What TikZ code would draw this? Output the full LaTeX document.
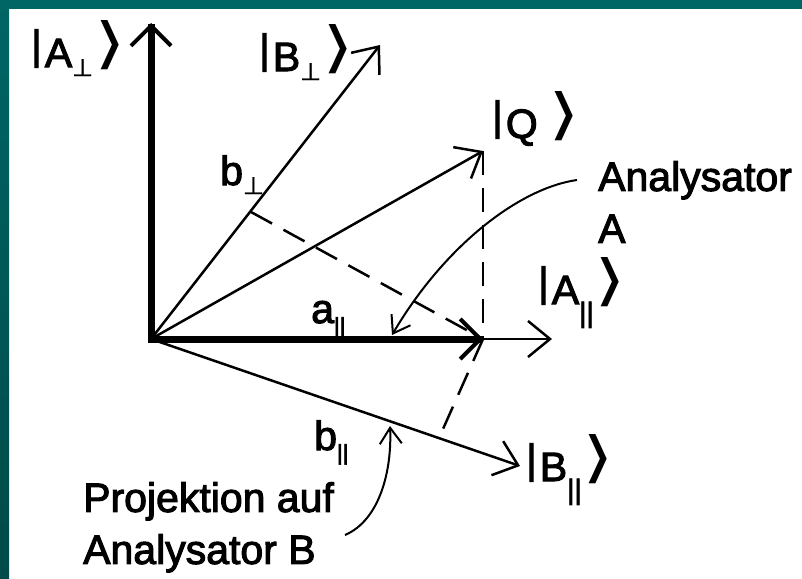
\documentclass[tikz,border=0pt]{standalone}
\usepackage{graphicx}
\usepackage{fontspec}
\setmainfont[FakeBold=2.5]{Liberation Sans}
\newfontfamily\symfont[FakeBold=1.5]{DejaVu Sans}
\newfontfamily\bracketfont{DejaVu Sans}
\usetikzlibrary{arrows.meta}

\definecolor{frameteal}{HTML}{006565}
\definecolor{frametealdark}{HTML}{004A4A}

\newcommand{\perpsub}{\raisebox{-9pt}{\symfont\fontsize{24}{24}\selectfont ⊥}}
\newcommand{\parsub}[2]{\raisebox{#2}{\fontsize{#1}{#1}\selectfont ||}}
\newcommand{\ketclose}{\kern1pt\raisebox{5pt}{\scalebox{2.0}[1.35]{\bracketfont ⟩}}}
\newcommand{\ketlbl}[2]{\raisebox{8pt}{|}\kern3pt#1#2\ketclose}

\begin{document}
\begin{tikzpicture}[x=1pt, y=-1pt,
    vec/.style={line width=2.5pt, -{Straight Barb[length=22pt,width=36pt]}},
    bigvec/.style={line width=7pt, line cap=rect, -{Straight Barb[length=20pt,width=40pt,line width=4pt 0]}},
    proj/.style={line width=2.5pt, dash pattern=on 24pt off 13pt},
    pointer/.style={line width=2pt, -{Straight Barb[length=16pt,width=22pt]}},
    lbl/.style={inner sep=0pt, anchor=base west, font=\fontsize{41}{52}\selectfont},
    note/.style={inner sep=0pt, anchor=north west, align=left, font=\fontsize{41}{52}\selectfont}
]
\useasboundingbox (0,0) rectangle (802,578);
\fill[white] (0,0) rectangle (802,578);

% Frame
\fill[frameteal] (0,0) rectangle (802,9);
\shade[top color=frameteal, bottom color=frametealdark] (0,0) rectangle (9,578);

% Points
\coordinate (O) at (151,339);
\coordinate (Aperp) at (151,23);
\coordinate (Apar) at (552,339);
\coordinate (Bperp) at (380,45);
\coordinate (Bpar) at (520,466);
\coordinate (Q) at (483,151);
\coordinate (apar) at (483,339);
\coordinate (bperp) at (251,212);
\coordinate (bpar) at (439,438);

% Projections
\draw[proj] (Q) -- (apar);
\draw[proj] (bperp) -- (apar);
\draw[proj] (apar) -- (bpar);

% Vectors
\draw[vec] (O) -- (Apar);
\draw[vec] (O) -- (Bperp);
\draw[vec] (O) -- (Bpar);
\draw[vec] (O) -- (Q);
\draw[bigvec] (O) -- (Aperp);
\draw[bigvec] (O) -- (apar);

% Labels
\node[lbl] (Aperplbl) at (31,67) {\ketlbl{A}{\perpsub}};
\node[lbl] (Bperplbl) at (259,71) {\ketlbl{B}{\perpsub}};
\node[lbl] (Qlbl) at (492,138) {\ketlbl{Q}{\kern10pt}};
\node[lbl] (Aparlbl) at (538,304) {\ketlbl{A}{\parsub{28}{-18pt}}};
\node[lbl] (Bparlbl) at (526,481) {\ketlbl{B}{\parsub{28}{-18pt}}};
\node[lbl] (aparlbl) at (311,323) {a\parsub{22}{-10pt}};
\node[lbl] (bperplbl) at (220,185) {b\perpsub};
\node[lbl] (bparlbl) at (314,450) {b\parsub{22}{-10pt}};
\node[note] (noteA) at (598,161) {Analysator\\A};
\node[note] (noteB) at (83,482) {Projektion auf\\Analysator B};

% Pointers
\coordinate (ptrA) at (577,180);
\coordinate (ptrAtip) at (392,335);
\coordinate (ptrB) at (345,535);
\coordinate (ptrBtip) at (390,426);
\draw[pointer] (ptrA) .. controls (520,188) and (445,245) .. (ptrAtip);
\draw[pointer] (ptrB) .. controls (380,520) and (392,470) .. (ptrBtip);
\end{tikzpicture}
\end{document}
